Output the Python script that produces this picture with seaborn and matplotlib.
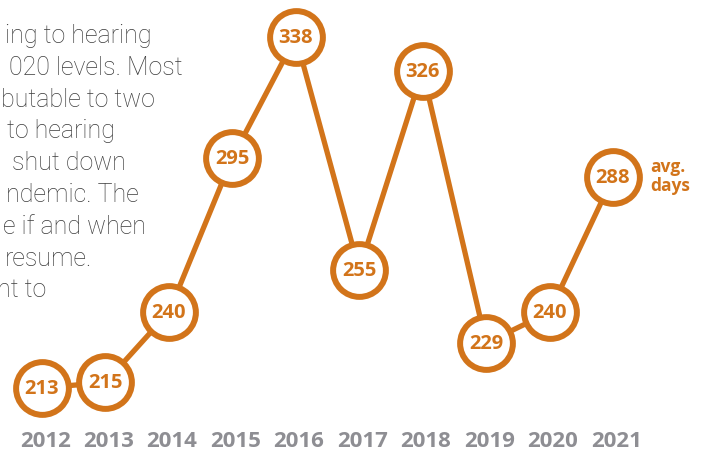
import numpy as np
import pandas as pd
import matplotlib
matplotlib.use("Agg")
import matplotlib.pyplot as plt
import seaborn as sns

# Data
years = [2012, 2013, 2014, 2015, 2016, 2017, 2018, 2019, 2020, 2021]
avg_days = [213, 215, 240, 295, 338, 255, 326, 229, 240, 288]
year_labels = [str(y) for y in years]

# Body text visible at the left (clipped in the original)
body_lines = ["ing to hearing", "020 levels. Most", "butable to two", "to hearing",
              "shut down", "ndemic. The", "e if and when", "resume.", "nt to"]
body_right_px = [152, 183, 155, 115, 126, 139, 146, 92, 46]

orange = "#D2741A"
gray = "#8E8E93"
text_col = "#3C3C3C"

df = pd.DataFrame({"year": years, "days": avg_days})

sns.set_style("white")
plt.rcParams["font.family"] = ["Open Sans", "DejaVu Sans"]

W, H = 706, 452
fig = plt.figure(figsize=(W / 100, H / 100), dpi=100)
ax = fig.add_axes([0, 0, 1, 1])

sns.lineplot(data=df, x="year", y="days", ax=ax, color=orange, linewidth=3.8,
             marker="o", markersize=38, markerfacecolor="white",
             markeredgecolor=orange, markeredgewidth=4.3)

# pixel mapping: 2012 -> x 42, step 63.44 px; 338 -> y 38, 2.808 px per day
ax.set_xlim(2012 - 42 / 63.44, 2012 + (W - 42) / 63.44)
ax.set_ylim(338 - (H - 38) / 2.808, 338 + 38 / 2.808)
ax.axis("off")

for x, v in zip(years, avg_days):
    ax.text(x, v, str(v), ha="center", va="center", color=orange,
            fontsize=14.5, fontweight="bold")

for x, lab in zip(years, year_labels):
    ax.text(x + 0.05, 1 - 447 / H, lab, transform=ax.get_xaxis_transform(),
            ha="center", va="baseline", color=gray, fontsize=16, fontweight="bold")

ax.annotate("avg.\ndays", xy=(years[-1], avg_days[-1]), xytext=(26.6, 1.5),
            textcoords="offset points", ha="left", va="center", color=orange,
            fontsize=12.5, fontweight="bold", linespacing=1.05)

for i, (line, xr) in enumerate(zip(body_lines, body_right_px)):
    base = 43 + 31.8 * i
    fig.text(xr / W, 1 - base / H, line, ha="right", va="baseline",
             color=text_col, fontsize=18, family=["Roboto", "DejaVu Sans"],
             fontweight="light")

fig.savefig("out.png", dpi=100)
